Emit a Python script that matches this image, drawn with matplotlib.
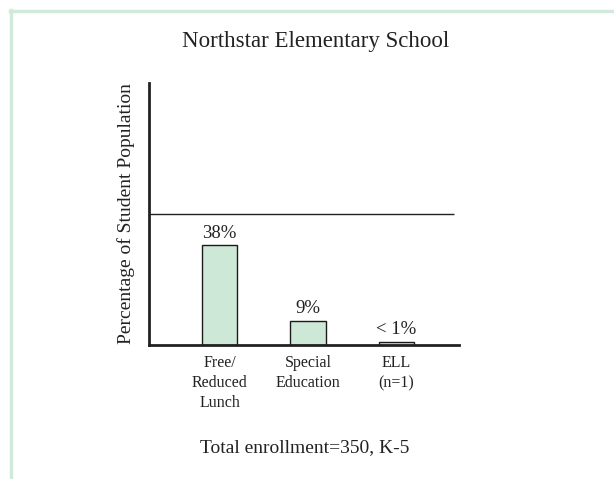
import matplotlib.pyplot as plt
from matplotlib.lines import Line2D

# Chart data
categories = ["Free/\nReduced\nLunch", "Special\nEducation", "ELL\n(n=1)"]
percentages = [38, 9, 1]
value_labels = ["38%", "9%", "< 1%"]
reference_level = 50

title = "Northstar Elementary School"
footer = "Total enrollment=350, K-5"
ylabel = "Percentage of Student Population"

W, H = 614, 479
DPI = 100

plt.rcParams['font.family'] = ['Liberation Serif', 'DejaVu Serif']

fig = plt.figure(figsize=(W / DPI, H / DPI), dpi=DPI)
fig.patch.set_facecolor('white')

# light green frame along the top and left edges
frame_color = '#d2eadb'
fig.add_artist(Line2D([10 / W, 1], [1 - 10.5 / H, 1 - 10.5 / H], color=frame_color, lw=2.5,
                      transform=fig.transFigure))
fig.add_artist(Line2D([11 / W, 11 / W], [0, 1 - 9.5 / H], color=frame_color, lw=2.5,
                      transform=fig.transFigure))

# axes box in pixels: left 149, right 459, top 83, bottom 345
ax = fig.add_axes([149 / W, (H - 345) / H, (459 - 149) / W, (345 - 83) / H])

x = list(range(len(categories)))
bars = ax.bar(x, percentages, width=0.40, color='#cde8d6', edgecolor='#1a1a1a', linewidth=1.0)

for rect, lab in zip(bars, value_labels):
    ax.text(rect.get_x() + rect.get_width() / 2, rect.get_height() + 1.5, lab,
            ha='center', va='bottom', fontsize=13.5, color='#222222')

ax.hlines(reference_level, -0.80, 2.65, color='#222222', lw=1.0)

ax.set_xlim(-0.80, 2.71)
ax.set_ylim(0, 100)

for side in ['top', 'right']:
    ax.spines[side].set_visible(False)
for side in ['left', 'bottom']:
    ax.spines[side].set_linewidth(2.0)
    ax.spines[side].set_color('#222222')

ax.set_yticks([])
ax.set_xticks(x)
ax.set_xticklabels(categories, fontsize=11.5, color='#222222', linespacing=1.35)
ax.tick_params(axis='x', length=0, pad=7)

ax.set_ylabel(ylabel, fontsize=14, color='#222222', labelpad=10)

fig.text(315.5 / W, 1 - 41 / H, title, ha='center', va='center', fontsize=16.5, color='#222222')
fig.text(305 / W, 1 - 448 / H, footer, ha='center', va='center', fontsize=14, color='#222222')

fig.savefig('out.png', dpi=DPI)
